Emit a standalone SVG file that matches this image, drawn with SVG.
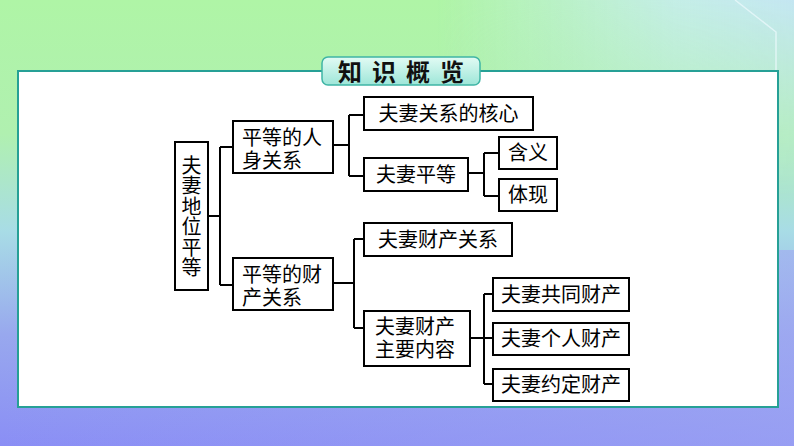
<svg xmlns="http://www.w3.org/2000/svg" width="794" height="446" viewBox="0 0 794 446">
<defs>
<linearGradient id="bgv" x1="0" y1="0" x2="0" y2="1">
<stop offset="0" stop-color="#aff5a6"/>
<stop offset="0.3" stop-color="#b0f0b0"/>
<stop offset="0.52" stop-color="#a8dce6"/>
<stop offset="0.75" stop-color="#98a8ee"/>
<stop offset="1" stop-color="#8a8ef5"/>
</linearGradient>
<linearGradient id="bgh" x1="0" y1="0" x2="1" y2="0">
<stop offset="0.55" stop-color="#c8ecf2" stop-opacity="0"/>
<stop offset="0.85" stop-color="#c8ecf2" stop-opacity="0.85"/>
<stop offset="1" stop-color="#c4e6f2" stop-opacity="1"/>
</linearGradient>
<linearGradient id="bgh2" x1="0" y1="0" x2="1" y2="0">
<stop offset="0" stop-color="#a0a8f2" stop-opacity="0"/>
<stop offset="1" stop-color="#a0a8f2" stop-opacity="0.6"/>
</linearGradient>
<linearGradient id="badge" x1="0" y1="0" x2="0" y2="1">
<stop offset="0" stop-color="#e2fbf4"/>
<stop offset="1" stop-color="#9ee6d8"/>
</linearGradient>
<linearGradient id="fadeV" x1="0" y1="0" x2="0" y2="1">
<stop offset="0" stop-color="#fff" stop-opacity="1"/>
<stop offset="1" stop-color="#fff" stop-opacity="0"/>
</linearGradient>
<mask id="topmask"><rect x="0" y="0" width="794" height="200" fill="url(#fadeV)"/></mask>
</defs>
<style>
.bx{fill:#fff;stroke:#000;stroke-width:2}
.t{font-family:"Noto Sans CJK SC","Noto Sans CJK JP",sans-serif;font-size:20px;fill:#000}
.c{fill:none;stroke:#000;stroke-width:2}
</style>
<rect x="0" y="0" width="794" height="446" fill="url(#bgv)"/>
<rect x="0" y="0" width="794" height="200" fill="url(#bgh)" mask="url(#topmask)"/>
<rect x="0" y="250" width="794" height="196" fill="url(#bgh2)"/>
<polyline points="735,0 776,32 776,70" fill="none" stroke="#e8f8fa" stroke-width="1.5" opacity="0.8"/>
<rect x="18" y="71" width="760" height="336" fill="#fff" stroke="#26a096" stroke-width="2"/>
<g id="title">
<rect x="322" y="57" width="158" height="28" rx="6" fill="url(#badge)" stroke="#3fb5a5" stroke-width="1.5"/>
<text x="406" y="81" text-anchor="middle" font-family="Noto Sans CJK SC,sans-serif" font-weight="bold" font-size="24" letter-spacing="10" fill="#111">知识概览</text>
</g>
<g id="connectors">
<path class="c" d="M208,216 H220 M220,147 V285 M220,147 H233 M220,285 H233"/>
<path class="c" d="M333,145 H349 M349,115 V176 M349,115 H364 M349,176 H364"/>
<path class="c" d="M468,173 H484 M484,153 V196 M484,153 H499 M484,196 H499"/>
<path class="c" d="M333,283 H354 M354,239 V328 M354,239 H364 M354,328 H364"/>
<path class="c" d="M470,338 H484 M484,294 V384 M484,294 H493 M484,338 H493 M484,384 H493"/>
</g>
<g id="root">
<rect class="bx" x="175" y="142" width="33" height="148"/>
<text class="t" x="191.5" y="155" writing-mode="vertical-rl" letter-spacing="0.5">夫妻地位平等</text>
</g>
<g id="n1">
<rect class="bx" x="233" y="121" width="100" height="52"/>
<text class="t"><tspan x="242" y="145">平等的人</tspan><tspan x="242" y="168">身关系</tspan></text>
</g>
<g id="n2">
<rect class="bx" x="233" y="258" width="100" height="52"/>
<text class="t"><tspan x="242" y="282">平等的财</tspan><tspan x="242" y="305">产关系</tspan></text>
</g>
<g id="n11">
<rect class="bx" x="364" y="97" width="169" height="33"/>
<text class="t" x="448.5" y="121" text-anchor="middle">夫妻关系的核心</text>
</g>
<g id="n12">
<rect class="bx" x="364" y="158" width="104" height="33"/>
<text class="t" x="416" y="182" text-anchor="middle">夫妻平等</text>
</g>
<g id="n121">
<rect class="bx" x="499" y="137" width="58" height="32"/>
<text class="t" x="528" y="160" text-anchor="middle">含义</text>
</g>
<g id="n122">
<rect class="bx" x="499" y="179" width="58" height="32"/>
<text class="t" x="528" y="202" text-anchor="middle">体现</text>
</g>
<g id="n21">
<rect class="bx" x="364" y="223" width="148" height="33"/>
<text class="t" x="438" y="247" text-anchor="middle">夫妻财产关系</text>
</g>
<g id="n22">
<rect class="bx" x="364" y="311" width="106" height="55"/>
<text class="t"><tspan x="375" y="334">夫妻财产</tspan><tspan x="375" y="357">主要内容</tspan></text>
</g>
<g id="n221">
<rect class="bx" x="493" y="278" width="136" height="33"/>
<text class="t" x="561" y="302" text-anchor="middle">夫妻共同财产</text>
</g>
<g id="n222">
<rect class="bx" x="493" y="323" width="136" height="32"/>
<text class="t" x="561" y="346" text-anchor="middle">夫妻个人财产</text>
</g>
<g id="n223">
<rect class="bx" x="493" y="369" width="136" height="32"/>
<text class="t" x="561" y="392" text-anchor="middle">夫妻约定财产</text>
</g>
</svg>
